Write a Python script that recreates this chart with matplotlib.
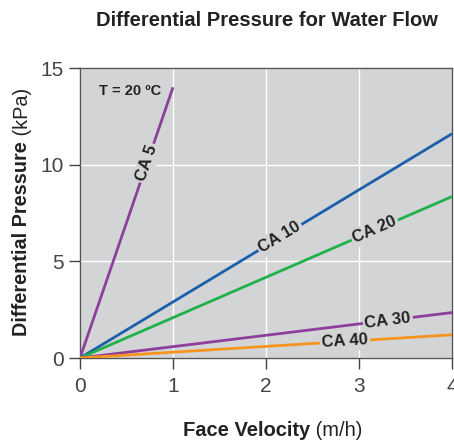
import numpy as np
import matplotlib
matplotlib.use("Agg")
import matplotlib.pyplot as plt

# Data
series_names = ["CA 5", "CA 10", "CA 20", "CA 30", "CA 40"]
x_start = [0, 0, 0, 0, 0]
x_end = [1, 4, 4, 4, 4]
y_end = [14.0, 11.6, 8.35, 2.35, 1.2]
colors = ["#8e3f9c", "#1c5fab", "#1fb24a", "#8e3f9c", "#f7941d"]
label_x = [0.72, 2.15, 3.17, 3.31, 2.85]
x_ticks = [0, 1, 2, 3, 4]
y_ticks = [0, 5, 10, 15]

plt.rcParams['font.family'] = ['Liberation Sans', 'DejaVu Sans']

fig = plt.figure(figsize=(4.54, 4.42), dpi=100)
ax = fig.add_axes([80/454, (442-358)/442, (452-80)/454, (358-68)/442])
bg = "#d3d4d6"
ax.set_facecolor(bg)
ax.set_xlim(0, 4)
ax.set_ylim(0, 15)
ax.set_xticks(x_ticks)
ax.set_yticks(y_ticks)
ax.grid(True, color="white", linewidth=1.0)
ax.set_axisbelow(True)
for s in ax.spines.values():
    s.set_color("#555555")
    s.set_linewidth(1.0)
ax.tick_params(axis='both', direction='out', length=8, width=1, color="#444444",
               labelsize=15, labelcolor="#444444")
ax.tick_params(axis='x', pad=6)

for name, xs, xe, ye, c, lx in zip(series_names, x_start, x_end, y_end, colors, label_x):
    ax.plot([xs, xe], [0, ye], color=c, linewidth=2.0, solid_capstyle='butt', zorder=3)
    ly = ye * lx / xe
    p1 = ax.transData.transform((0, 0))
    p2 = ax.transData.transform((xe, ye))
    ang = np.degrees(np.arctan2(p2[1]-p1[1], p2[0]-p1[0]))
    ax.text(lx, ly, name, rotation=ang, rotation_mode='anchor', ha='center', va='center',
            fontsize=12, fontweight='bold', color="#222222", zorder=4,
            bbox=dict(facecolor=bg, edgecolor='none', pad=1.5))

ax.text(0.54, 13.8, "T = 20 ºC", ha='center', va='center', fontsize=10.5,
        fontweight='bold', color="#222222")

fig.text(267/454, 1 - 20/442, "Differential Pressure for Water Flow", ha='center', va='center',
         fontsize=14.5, fontweight='bold', color="#222222")

# x label: bold + normal parts
xl1 = fig.text(0, 1 - 430/442, "Face Velocity", fontsize=14.5, fontweight='bold', color="#222222",
               ha='left', va='center')
xl2 = fig.text(0, 1 - 430/442, " (m/h)", fontsize=14.5, color="#222222", ha='left', va='center')
fig.canvas.draw()
r = fig.canvas.get_renderer()
w1 = xl1.get_window_extent(r).width
w2 = xl2.get_window_extent(r).width
total = w1 + w2
cx = 273
xl1.set_x((cx - total/2)/454)
xl2.set_x((cx - total/2 + w1)/454)

yl1 = fig.text(22/454, 0, "Differential Pressure", fontsize=14.3, fontweight='bold', color="#222222",
               rotation=90, ha='center', va='bottom')
yl2 = fig.text(22/454, 0, " (kPa)", fontsize=14.3, color="#222222", rotation=90, ha='center', va='bottom')
h1 = yl1.get_window_extent(r).height
h2 = yl2.get_window_extent(r).height
cy = 442 - 212
tot = h1 + h2
yl1.set_y((cy - tot/2)/442)
yl2.set_y((cy - tot/2 + h1)/442)

fig.savefig("out.png", dpi=100, facecolor="white")
